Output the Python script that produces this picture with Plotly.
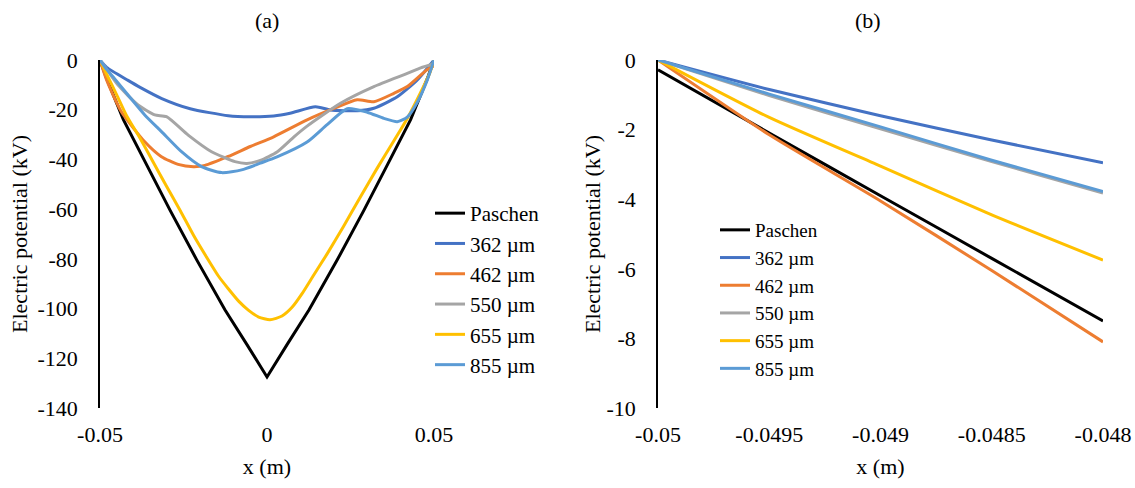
import plotly.graph_objects as go

# ---------------- Panel (a) data ----------------
a_paschen_x = [-0.05, -0.048, -0.043, -0.0365, -0.029, -0.021, -0.0126, -0.006, 0.0,
               0.006, 0.0126, 0.021, 0.029, 0.0365, 0.043, 0.048, 0.05]
a_paschen_y = [0, -7.5, -24, -41, -60.5, -80.5, -100.5, -114.5, -127.5,
               -114.5, -100.5, -80.5, -60.5, -41, -24, -7.5, 0]

a_362_x = [-0.05, -0.048, -0.0416, -0.038, -0.0315, -0.023, -0.0116, -0.005, 0.002,
           0.0069, 0.0145, 0.019, 0.027, 0.032, 0.039, 0.045, 0.05]
a_362_y = [0, -2.95, -8.2, -11.0, -15.5, -19.6, -22.4, -22.8, -22.5,
           -21.4, -18.8, -20.1, -20.4, -19.4, -14.8, -8.0, 0]

a_462_x = [-0.05, -0.048, -0.0436, -0.0366, -0.0316, -0.0266, -0.022, -0.0186, -0.0116,
           -0.005, 0.002, 0.012, 0.02, 0.027, 0.032, 0.038, 0.042, 0.048, 0.05]
a_462_y = [0, -8.1, -20.8, -32.9, -38.9, -42.0, -42.9, -42.4, -38.8,
           -34.8, -30.9, -24.1, -19.5, -16.0, -16.8, -13.4, -10.7, -3.8, -2.3]

a_550_x = [-0.05, -0.048, -0.0446, -0.0386, -0.0336, -0.0301, -0.0236, -0.0166, -0.0096,
           -0.006, -0.002, 0.003, 0.008, 0.012, 0.022, 0.032, 0.042, 0.046, 0.05]
a_550_y = [0, -3.8, -10.1, -18.1, -22.1, -22.8, -30.2, -36.9, -40.9,
           -41.6, -40.4, -37.0, -31.0, -26.6, -17.4, -10.7, -5.4, -3.2, -1.5]

a_655_x = [-0.05, -0.048, -0.045, -0.042, -0.038, -0.0345, -0.030, -0.026, -0.022,
           -0.018, -0.0145, -0.0116, -0.0085, -0.0056, -0.0025, 0.0009, 0.0045, 0.0075,
           0.0105, 0.014, 0.018, 0.0229, 0.028, 0.033, 0.038, 0.042, 0.046, 0.0488, 0.05]
a_655_y = [0, -5.75, -14.0, -22.5, -31.5, -40.0, -51.0, -60.5, -70.5,
           -79.5, -87.0, -92.0, -97.0, -100.6, -103.4, -104.5, -103.0, -99.5,
           -94.0, -86.5, -78.0, -67.0, -55.0, -43.5, -32.5, -23.5, -13.0, -5.0, 0]

a_855_x = [-0.05, -0.048, -0.0457, -0.0416, -0.0366, -0.0316, -0.0256, -0.0196, -0.0136,
           -0.0076, -0.002, 0.003, 0.012, 0.018, 0.024, 0.030, 0.035, 0.039, 0.042,
           0.045, 0.048, 0.05]
a_855_y = [0, -3.8, -7.4, -14.1, -22.1, -28.8, -36.9, -42.9, -45.3,
           -44.2, -41.5, -39.0, -33.0, -26.0, -19.6, -21.0, -23.5, -24.8, -23.0,
           -17.0, -8.0, 0]

# ---------------- Panel (b) data ----------------
b_x = [-0.05, -0.0495, -0.049, -0.0485, -0.048]
b_paschen = [-0.28, -2.1, -3.9, -5.7, -7.5]
b_362 = [0, -0.85, -1.6, -2.3, -2.95]
b_462 = [0, -2.15, -4.05, -6.05, -8.1]
b_550 = [0, -1.02, -1.98, -2.92, -3.82]
b_655 = [0, -1.65, -3.05, -4.45, -5.75]
b_855 = [0, -0.98, -1.92, -2.88, -3.78]

names = ["Paschen", "362 µm", "462 µm", "550 µm", "655 µm", "855 µm"]
colors = ["#000000", "#4472C4", "#ED7D31", "#A5A5A5", "#FFC000", "#5B9BD5"]

# ticks
a_xticks = [-0.05, 0, 0.05]
a_xticktext = ["-0.05", "0", "0.05"]
a_yticks = [0, -20, -40, -60, -80, -100, -120, -140]
a_yticktext = ["0", "-20", "-40", "-60", "-80", "-100", "-120", "-140"]
b_xticks = [-0.05, -0.0495, -0.049, -0.0485, -0.048]
b_xticktext = ["-0.05", "-0.0495", "-0.049", "-0.0485", "-0.048"]
b_yticks = [0, -2, -4, -6, -8, -10]
b_yticktext = ["0", "-2", "-4", "-6", "-8", "-10"]

FONT = "Liberation Serif"
FS = 22
W, H = 1135, 488

fig = go.Figure()

a_series = [(a_paschen_x, a_paschen_y), (a_362_x, a_362_y), (a_462_x, a_462_y),
            (a_550_x, a_550_y), (a_655_x, a_655_y), (a_855_x, a_855_y)]
for i, ((xs, ys), nm, c) in enumerate(zip(a_series, names, colors)):
    fig.add_trace(go.Scatter(
        x=xs, y=ys, mode="lines", name=nm, xaxis="x", yaxis="y",
        line=dict(color=c, width=3, shape="linear" if i == 0 else "spline", smoothing=0.6),
        legend="legend"))

b_series = [b_paschen, b_362, b_462, b_550, b_655, b_855]
for i, (ys, nm, c) in enumerate(zip(b_series, names, colors)):
    fig.add_trace(go.Scatter(
        x=b_x, y=ys, mode="lines", name=nm, xaxis="x2", yaxis="y2",
        line=dict(color=c, width=3, shape="spline", smoothing=0.6),
        legend="legend2"))

ydom = [1 - 408 / H, 1 - 60 / H]
ax_common = dict(showgrid=False, zeroline=False, ticks="", color="#000000", automargin=False,
                 tickfont=dict(family=FONT, size=FS, color="#000000"))

fig.update_layout(
    width=W, height=H,
    margin=dict(l=0, r=0, t=0, b=0),
    paper_bgcolor="white", plot_bgcolor="white",
    font=dict(family=FONT, size=FS, color="#000000"),
    xaxis=dict(domain=[100 / W, 434 / W], range=[-0.05, 0.05], anchor="y",
               tickvals=a_xticks, ticktext=a_xticktext, showline=False,
               ticklabelstandoff=11,
               title=dict(text="x (m)", font=dict(family=FONT, size=FS), standoff=12),
               **ax_common),
    yaxis=dict(domain=ydom, range=[-140, 0], anchor="x",
               tickvals=a_yticks, ticktext=a_yticktext, showline=True,
               linecolor="#000000", linewidth=1.5, ticklabelstandoff=16,
               title=dict(text="Electric potential (kV)", font=dict(family=FONT, size=FS), standoff=4),
               **ax_common),
    xaxis3=dict(overlaying="x", anchor="y", side="top", range=[-0.05, 0.05],
                showline=True, linecolor="#000000", linewidth=1.5, automargin=False,
                showticklabels=False, ticks="", showgrid=False, zeroline=False),
    xaxis2=dict(domain=[658 / W, 1103 / W], range=[-0.05, -0.048], anchor="y2",
                tickvals=b_xticks, ticktext=b_xticktext, showline=False,
                ticklabelstandoff=11,
                title=dict(text="x (m)", font=dict(family=FONT, size=FS), standoff=12),
                **ax_common),
    yaxis2=dict(domain=ydom, range=[-10, 0], anchor="x2",
                tickvals=b_yticks, ticktext=b_yticktext, showline=True,
                linecolor="#000000", linewidth=1.5, ticklabelstandoff=16,
                title=dict(text="Electric potential (kV)", font=dict(family=FONT, size=FS), standoff=0),
                **ax_common),
    xaxis4=dict(overlaying="x2", anchor="y2", side="top", range=[-0.05, -0.048],
                showline=True, linecolor="#000000", linewidth=1.5, automargin=False,
                showticklabels=False, ticks="", showgrid=False, zeroline=False),
    legend=dict(x=430 / W, y=1 - 193 / H, xanchor="left", yanchor="top",
                bgcolor="rgba(0,0,0,0)", font=dict(family=FONT, size=21),
                tracegroupgap=0, itemwidth=30),
    legend2=dict(x=715 / W, y=1 - 211 / H, xanchor="left", yanchor="top",
                 bgcolor="rgba(0,0,0,0)", font=dict(family=FONT, size=19),
                 tracegroupgap=0, itemwidth=30),
    annotations=[
        dict(text="(a)", x=(100 + 434) / 2 / W, y=1 - 20 / H, xref="paper", yref="paper",
             showarrow=False, font=dict(family=FONT, size=FS), xanchor="center", yanchor="middle"),
        dict(text="(b)", x=868 / W, y=1 - 20 / H, xref="paper", yref="paper",
             showarrow=False, font=dict(family=FONT, size=FS), xanchor="center", yanchor="middle"),
    ],
)

fig.write_html("out.html")
